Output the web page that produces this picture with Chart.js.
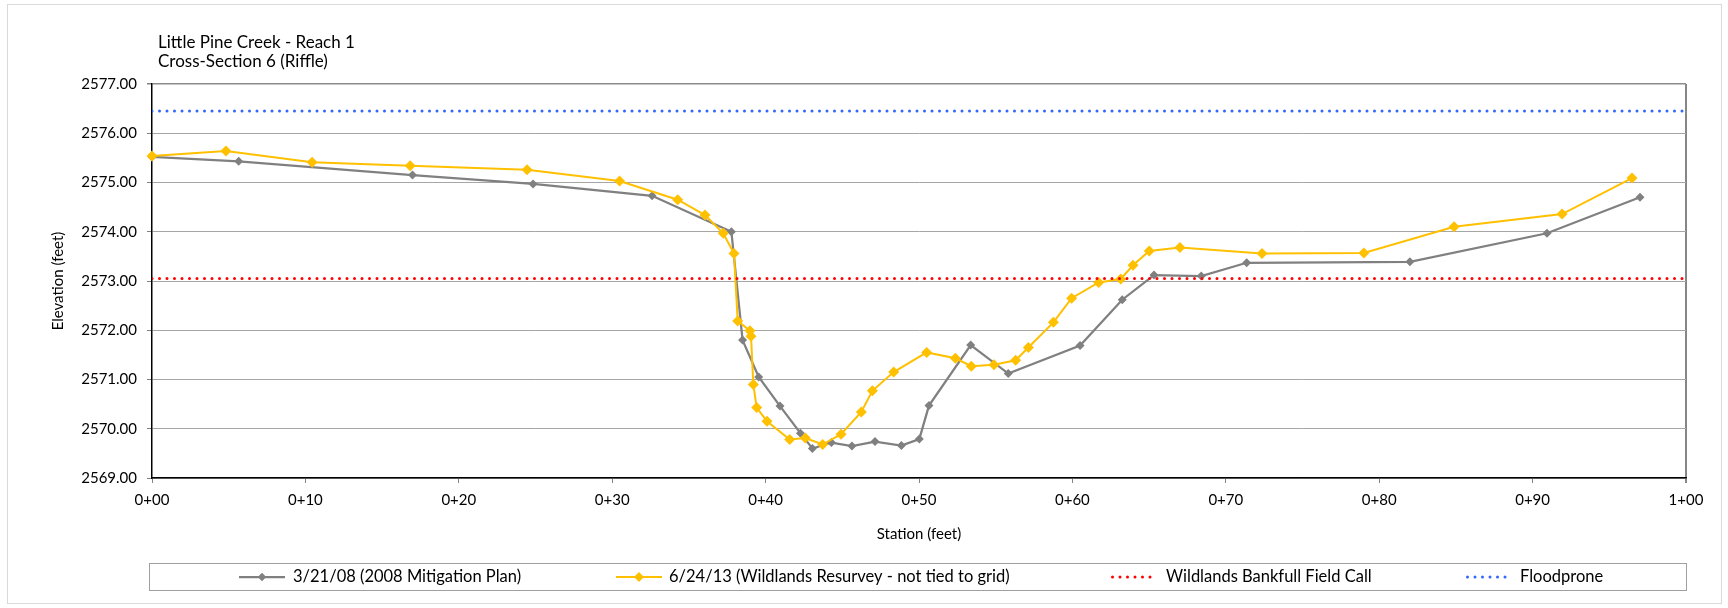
<!DOCTYPE html>
<html>
<head>
<meta charset="utf-8">
<script src="https://cdn.jsdelivr.net/npm/chart.js@4.4.1/dist/chart.umd.min.js"></script>
<style>
html,body{margin:0;padding:0;background:#fff;}
#wrap{width:1728px;height:608px;position:relative;}
</style>
</head>
<body>
<div id="wrap"><canvas id="c" width="1728" height="608"></canvas></div>
<script>
// ---------- DATA ----------
const chartTitle = ['Little Pine Creek - Reach 1', 'Cross-Section 6 (Riffle)'];
const xAxisTitle = 'Station (feet)';
const yAxisTitle = 'Elevation (feet)';
const seriesNames = [
  '3/21/08 (2008 Mitigation Plan)',
  '6/24/13 (Wildlands Resurvey - not tied to grid)',
  'Wildlands Bankfull Field Call',
  'Floodprone'
];
const xTickLabels = ['0+00','0+10','0+20','0+30','0+40','0+50','0+60','0+70','0+80','0+90','1+00'];
const yTickLabels = ['2569.00','2570.00','2571.00','2572.00','2573.00','2574.00','2575.00','2576.00','2577.00'];

const stations2008 = [0, 5.65, 16.98, 24.84, 32.6, 37.77, 38.5, 39.55, 40.94, 42.27, 43.05, 44.29, 45.63, 47.13, 48.85, 50.02, 50.65, 53.37, 55.82, 60.5, 63.25, 65.32, 68.4, 71.36, 82.0, 90.94, 97.0];
const elev2008 = [2575.52, 2575.43, 2575.15, 2574.97, 2574.73, 2574.00, 2571.80, 2571.05, 2570.46, 2569.91, 2569.60, 2569.72, 2569.65, 2569.74, 2569.66, 2569.79, 2570.47, 2571.70, 2571.12, 2571.69, 2572.62, 2573.12, 2573.10, 2573.37, 2573.39, 2573.97, 2574.70];

const stations2013 = [0, 4.82, 10.44, 16.83, 24.45, 30.48, 34.27, 36.05, 37.24, 37.94, 38.18, 38.98, 39.05, 39.2, 39.42, 40.09, 41.57, 42.59, 43.72, 44.92, 46.24, 46.96, 48.35, 50.5, 52.37, 53.41, 54.89, 56.3, 57.13, 58.76, 59.95, 61.71, 63.15, 63.95, 65.01, 67.01, 72.36, 79.0, 84.88, 91.92, 96.48];
const elev2013 = [2575.54, 2575.64, 2575.41, 2575.34, 2575.26, 2575.03, 2574.65, 2574.34, 2573.97, 2573.56, 2572.19, 2571.99, 2571.88, 2570.90, 2570.43, 2570.15, 2569.78, 2569.81, 2569.68, 2569.89, 2570.34, 2570.77, 2571.15, 2571.55, 2571.43, 2571.27, 2571.30, 2571.39, 2571.65, 2572.16, 2572.65, 2572.97, 2573.04, 2573.32, 2573.61, 2573.68, 2573.56, 2573.57, 2574.10, 2574.36, 2575.09];

const bankfullElev = 2573.05;
const floodproneElev = 2576.45;
const stationRange = [0, 100];
const elevRange = [2569, 2577];

// ---------- BUILD ----------
const toPts = (xs, ys) => xs.map((x, i) => ({x: x, y: ys[i]}));
const flat = (v) => stationRange.map(x => ({x: x, y: v}));

const FONT = 'Lato';
const colGray = '#808080', colYellow = '#FFC000', colRed = '#FF0000', colBlue = '#3366FF';

const datasets = [
  { label: seriesNames[0], data: toPts(stations2008, elev2008), borderColor: colGray, backgroundColor: colGray,
    borderWidth: 2.25, pointStyle: 'rectRot', pointRadius: 4.5, pointBorderWidth: 0, showLine: true, order: 4, clip: false },
  { label: seriesNames[1], data: toPts(stations2013, elev2013), borderColor: colYellow, backgroundColor: colYellow,
    borderWidth: 2, pointStyle: 'rectRot', pointRadius: 5.5, pointBorderWidth: 0, showLine: true, order: 3, clip: false },
  { label: seriesNames[2], data: flat(bankfullElev), borderColor: colRed, backgroundColor: colRed,
    borderWidth: 3, borderDash: [0, 7.5], borderCapStyle: 'round', pointRadius: 0, showLine: true, order: 2 },
  { label: seriesNames[3], data: flat(floodproneElev), borderColor: colBlue, backgroundColor: colBlue,
    borderWidth: 3, borderDash: [0, 7.5], borderCapStyle: 'round', pointRadius: 0, showLine: true, order: 1 }
];

// layout constants
const LEG = { left: 149.5, top: 563.5, right: 1686.5, bottom: 590.5, cy: 577,
  sampleX: [239, 616, 1111, 1466], sampleLen: 46, textX: [293, 669, 1166, 1520], markerR: [4, 4.8, 0, 0] };

const decor = {
  id: 'decor',
  beforeDraw(chart) {
    const ctx = chart.ctx;
    ctx.save();
    ctx.fillStyle = '#fff';
    ctx.fillRect(0, 0, chart.width, chart.height);
    ctx.strokeStyle = '#D9D9D9';
    ctx.lineWidth = 1;
    ctx.strokeRect(7.5, 4.5, 1714, 599);
    ctx.restore();
  },
  afterDraw(chart) {
    const ctx = chart.ctx;
    ctx.save();
    // title
    ctx.fillStyle = '#000';
    ctx.font = '17px ' + FONT;
    ctx.textAlign = 'left';
    ctx.textBaseline = 'alphabetic';
    ctx.fillText(chartTitle[0], 158, 47.5);
    ctx.fillText(chartTitle[1], 158, 67);
    // legend box
    ctx.strokeStyle = '#A0A0A0';
    ctx.lineWidth = 1;
    ctx.strokeRect(LEG.left, LEG.top, LEG.right - LEG.left, LEG.bottom - LEG.top);
    chart.data.datasets.forEach((ds, i) => {
      const x0 = LEG.sampleX[i], x1 = x0 + LEG.sampleLen, y = LEG.cy;
      ctx.save();
      ctx.strokeStyle = ds.borderColor;
      ctx.lineWidth = ds.borderWidth;
      ctx.lineCap = ds.borderCapStyle || 'butt';
      ctx.setLineDash(ds.borderDash || []);
      ctx.beginPath();
      ctx.moveTo(x0 + (ds.borderDash ? 1.5 : 0), y);
      ctx.lineTo(x1, y);
      ctx.stroke();
      ctx.restore();
      if (LEG.markerR[i] > 0) {
        ctx.fillStyle = ds.backgroundColor;
        Chart.helpers.drawPoint(ctx, {pointStyle: 'rectRot', radius: LEG.markerR[i], rotation: 0, borderWidth: 0}, (x0 + x1) / 2, y);
        ctx.fill();
      }
      ctx.fillStyle = '#000';
      ctx.font = '16.5px ' + FONT;
      ctx.textBaseline = 'middle';
      ctx.fillText(ds.label, LEG.textX[i], y);
    });
    ctx.restore();
  }
};

function draw() {
  new Chart(document.getElementById('c'), {
    type: 'scatter',
    data: { datasets: datasets },
    plugins: [decor],
    options: {
      responsive: false,
      devicePixelRatio: 1,
      animation: false,
      layout: { padding: { left: 0, right: 42, top: 84, bottom: 60 } },
      plugins: { legend: { display: false }, title: { display: false }, tooltip: { enabled: false } },
      elements: { line: { tension: 0 } },
      scales: {
        x: {
          type: 'linear', position: 'bottom', min: stationRange[0], max: stationRange[1],
          afterFit: s => { s.height = 70; },
          ticks: { stepSize: 10, padding: 8, color: '#000', font: { family: FONT, size: 15 },
            callback: v => xTickLabels[Math.round(v / 10)] },
          grid: { drawOnChartArea: true, drawTicks: true, tickLength: 5,
            color: c => (c.tick && c.tick.value === 100) ? '#868686' : 'rgba(0,0,0,0)',
            lineWidth: c => (c.tick && c.tick.value === 100) ? 2 : 1,
            tickColor: '#868686' },
          border: { display: true, color: '#000', width: 1.5 },
          title: { display: true, text: xAxisTitle, color: '#000', font: { family: FONT, size: 15 }, padding: { top: 0, bottom: 5 } }
        },
        y: {
          type: 'linear', min: elevRange[0], max: elevRange[1],
          afterFit: s => { s.width = 152; },
          ticks: { stepSize: 1, padding: 10, color: '#000', font: { family: FONT, size: 15 },
            callback: v => yTickLabels[Math.round(v - elevRange[0])] },
          grid: { drawTicks: true, tickLength: 5,
            color: c => (c.tick && c.tick.value === elevRange[1]) ? '#8C8C8C' : '#A6A6A6',
            lineWidth: c => (c.tick && c.tick.value === elevRange[1]) ? 1.5 : 1,
            tickColor: '#808080' },
          border: { display: true, color: '#000', width: 1.5 },
          title: { display: true, text: yAxisTitle, color: '#000', font: { family: FONT, size: 15 }, padding: { top: 49, bottom: 0 } }
        }
      }
    }
  });
}
if (document.fonts && document.fonts.load) {
  Promise.all([document.fonts.load('15px ' + FONT), document.fonts.load('17px ' + FONT)]).then(draw, draw);
} else { draw(); }
</script>
</body>
</html>
